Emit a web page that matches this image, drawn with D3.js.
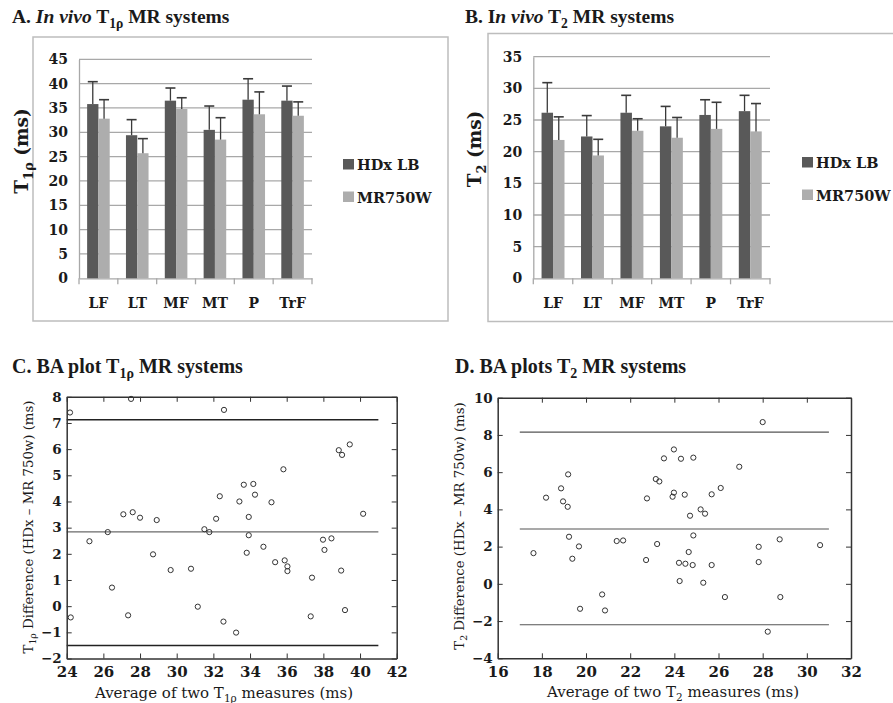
<!DOCTYPE html>
<html><head><meta charset="utf-8">
<script src="https://cdn.jsdelivr.net/npm/d3@7/dist/d3.min.js"></script>
<style>
html,body{margin:0;padding:0;background:#fff;}
svg{display:block;}
text{font-family:"DejaVu Serif",serif;fill:#1a1a1a;}
.ttl{font-family:"Liberation Serif",serif;font-weight:bold;}
</style></head>
<body>
<svg id="c" width="893" height="703"></svg>
<script>
// ---------- DATA ----------
const categories = ["LF","LT","MF","MT","P","TrF"];
const seriesNames = ["HDx LB","MR750W"];
const t1rhoHDx    = [35.8, 29.4, 36.5, 30.5, 36.7, 36.5];
const t1rhoHDxErr = [4.6, 3.2, 2.6, 4.9, 4.3, 3.0];
const t1rhoMR     = [32.8, 25.7, 34.8, 28.5, 33.7, 33.4];
const t1rhoMRErr  = [3.9, 3.0, 2.3, 4.5, 4.6, 2.85];
const t2HDx       = [26.15, 22.4, 26.15, 24.0, 25.8, 26.4];
const t2HDxErr    = [4.75, 3.3, 2.75, 3.15, 2.4, 2.5];
const t2MR        = [21.85, 19.4, 23.3, 22.2, 23.6, 23.2];
const t2MRErr     = [3.65, 2.55, 1.9, 3.2, 4.2, 4.4];
const t1rhoTicks  = [0,5,10,15,20,25,30,35,40,45];
const t2Ticks     = [0,5,10,15,20,25,30,35];

// Bland-Altman T1rho: [average, difference]
const baT1rho = [
 [24.18,7.40],[24.22,-0.43],[27.51,7.92],[25.24,2.48],[26.24,2.83],[26.47,0.71],
 [27.09,3.51],[27.60,3.59],[28.00,3.38],[27.35,-0.35],[28.91,3.29],[28.71,1.98],
 [29.67,1.38],[30.78,1.43],[31.15,-0.02],[31.51,2.94],[31.78,2.83],[32.15,3.34],
 [32.35,4.20],[32.58,7.50],[32.55,-0.59],[33.24,-1.01],[33.42,4.00],[33.66,4.64],
 [34.18,4.67],[34.27,4.26],[33.93,3.41],[33.93,2.71],[33.82,2.04],[34.73,2.27],
 [35.17,3.97],[35.82,5.23],[35.37,1.68],[35.89,1.75],[36.04,1.52],[36.04,1.34],
 [37.38,1.09],[37.31,-0.39],[37.98,2.54],[38.44,2.59],[38.06,2.15],[38.84,5.96],
 [39.02,5.78],[39.44,6.18],[38.97,1.36],[39.18,-0.15],[40.17,3.53]
];
const baT1rhoLines = [7.12, 2.84, -1.50];
const baT1rhoXTicks = [24,26,28,30,32,34,36,38,40,42];
const baT1rhoYTicks = [-2,-1,0,1,2,3,4,5,6,7,8];

// Bland-Altman T2: [average, difference]
const baT2 = [
 [17.62,1.65],[18.19,4.63],[18.87,5.13],[18.96,4.43],[19.17,4.14],[19.19,5.88],
 [19.23,2.53],[19.38,1.35],[19.68,2.01],[19.73,-1.34],[20.73,-0.57],[20.86,-1.43],
 [21.39,2.30],[21.68,2.33],[22.72,1.28],[22.76,4.59],[23.16,5.63],[23.32,5.50],
 [23.22,2.14],[23.53,6.74],[23.98,7.22],[24.30,6.72],[24.86,6.78],[26.94,6.29],
 [28.00,8.69],[23.98,4.90],[23.92,4.68],[24.47,4.79],[25.69,4.81],[26.10,5.15],
 [25.19,4.00],[25.39,3.77],[24.71,3.66],[24.86,2.60],[24.65,1.71],[24.21,1.13],
 [24.50,1.08],[24.83,1.01],[25.69,1.01],[27.82,1.99],[27.82,1.17],[28.77,2.39],
 [30.60,2.08],[24.24,0.15],[25.31,0.06],[26.29,-0.71],[28.80,-0.71],[28.23,-2.57]
];
const baT2Lines = [8.15, 2.95, -2.20];
const baT2XTicks = [16,18,20,22,24,26,28,30,32];
const baT2YTicks = [-4,-2,0,2,4,6,8,10];

// ---------- HELPERS ----------
const svg = d3.select("#c");
const DARK = "#595959", LIGHT = "#adadad";

function rich(sel, parts){
  // parts: [text, kind] kind: ''|'i'|'sub'|'after'
  parts.forEach(([t,k])=>{
    const ts = sel.append("tspan").text(t);
    if(k==="i") ts.attr("font-style","italic");
    if(k==="sub") ts.attr("font-size","0.7em").attr("dy","0.36em");
    if(k==="after") ts.attr("dy","-0.25em");
  });
  return sel;
}

function barPanel(o){
  const g = svg.append("g");
  g.append("rect").attr("x",o.box[0]).attr("y",o.box[1]).attr("width",o.box[2]).attr("height",o.box[3])
    .attr("fill","none").attr("stroke","#bdbdbd").attr("stroke-width",1.5);
  rich(g.append("text").attr("class","ttl").attr("x",o.titleX).attr("y",23).attr("font-size",19.5), o.title);

  const x0 = d3.scaleBand().domain(categories).range([o.x0,o.x1]).paddingInner(0).paddingOuter(0);
  const x1 = d3.scaleBand().domain(seriesNames).range([0,x0.bandwidth()]).paddingInner(0).paddingOuter(0.72);
  const y = d3.scaleLinear().domain([0,o.ymax]).range([o.yb,o.yt]);

  // gridlines
  g.append("g").selectAll("line").data(o.ticks.filter(d=>d>0)).join("line")
    .attr("x1",o.x0).attr("x2",o.x1).attr("y1",d=>y(d)).attr("y2",d=>y(d))
    .attr("stroke","#a8a8a8").attr("stroke-width",1.3);
  // y axis
  const ya = g.append("g").attr("transform",`translate(${o.x0},0)`).call(d3.axisLeft(y).tickValues(o.ticks).tickSize(0).tickPadding(11));
  ya.select(".domain").attr("stroke","#a8a8a8").attr("stroke-width",1.3);
  ya.selectAll("text").attr("font-size",14).attr("font-weight","bold").attr("font-family","DejaVu Serif").attr("fill","#1a1a1a");
  // x axis
  const xa = g.append("g").attr("transform",`translate(0,${o.yb})`).call(d3.axisBottom(x0).tickSize(0).tickPadding(20));
  xa.select(".domain").attr("stroke","#a8a8a8").attr("stroke-width",1.3);
  xa.selectAll("text").attr("font-size",14).attr("font-weight","bold").attr("font-family","DejaVu Serif").attr("fill","#1a1a1a");
  const bounds = categories.map(c=>x0(c)).concat([o.x1]);
  xa.append("g").selectAll("line").data(bounds).join("line")
    .attr("x1",d=>d).attr("x2",d=>d).attr("y1",0).attr("y2",6).attr("stroke","#a8a8a8").attr("stroke-width",1.3);

  const rows = categories.map((c,i)=>({c, v:[o.a[i],o.b[i]], e:[o.ae[i],o.be[i]]}));
  const cg = g.append("g").selectAll("g").data(rows).join("g").attr("transform",d=>`translate(${x0(d.c)},0)`);
  seriesNames.forEach((s,si)=>{
    cg.append("rect").attr("x",x1(s)).attr("width",x1.bandwidth())
      .attr("y",d=>y(d.v[si])).attr("height",d=>y(0)-y(d.v[si]))
      .attr("fill",si===0?DARK:LIGHT);
    const cx = x1(s)+x1.bandwidth()/2;
    cg.append("line").attr("x1",cx).attr("x2",cx).attr("y1",d=>y(d.v[si])).attr("y2",d=>y(d.v[si]+d.e[si]))
      .attr("stroke","#3a3a3a").attr("stroke-width",1.3);
    cg.append("line").attr("x1",cx-5).attr("x2",cx+5).attr("y1",d=>y(d.v[si]+d.e[si])).attr("y2",d=>y(d.v[si]+d.e[si]))
      .attr("stroke","#3a3a3a").attr("stroke-width",1.6);
  });
  // legend
  seriesNames.forEach((s,si)=>{
    g.append("rect").attr("x",o.legX).attr("y",o.legY+si*32.5).attr("width",11).attr("height",10.5).attr("fill",si===0?DARK:LIGHT);
    g.append("text").attr("x",o.legX+14).attr("y",o.legY+11+si*32.5).attr("font-size",14.5).attr("font-weight","bold").text(s);
  });
  // y label
  rich(g.append("text").attr("transform",`translate(${o.ylabX},${o.ylabY}) rotate(-90)`).attr("text-anchor","middle")
    .attr("font-size",18.5).attr("font-weight","bold"), o.ylab);
}

barPanel({box:[33,37,415,284], title:[["A. ",""],["In vivo","i"],[" T",""],["1ρ","sub"],[" MR systems","after"]], titleX:12,
  x0:79, x1:312, yb:278.3, yt:59.3, ymax:45, ticks:t1rhoTicks,
  a:t1rhoHDx, ae:t1rhoHDxErr, b:t1rhoMR, be:t1rhoMRErr, legX:343, legY:159,
  ylab:[["T",""],["1ρ","sub"],[" (ms)","after"]], ylabX:28, ylabY:151});

barPanel({box:[488,33.5,410,288], title:[["B. I",""],["n vivo","i"],[" T",""],["2","sub"],[" MR systems","after"]], titleX:465,
  x0:533.3, x1:770, yb:278.3, yt:56.7, ymax:35, ticks:t2Ticks,
  a:t2HDx, ae:t2HDxErr, b:t2MR, be:t2MRErr, legX:802, legY:157,
  ylab:[["T",""],["2","sub"],[" (ms)","after"]], ylabX:481, ylabY:149});

function baPanel(o){
  const g = svg.append("g");
  rich(g.append("text").attr("class","ttl").attr("x",o.titleX).attr("y",373).attr("font-size",20), o.title);
  const x = d3.scaleLinear().domain(o.xd).range([o.l,o.r]);
  const y = d3.scaleLinear().domain(o.yd).range([o.b,o.t]);
  // limit lines
  o.lines.forEach((v,i)=>{
    g.append("line").attr("x1",x(o.lx[0])).attr("x2",x(o.lx[1])).attr("y1",y(v)).attr("y2",y(v))
      .attr("stroke",i===1?o.meanCol:o.limCol).attr("stroke-width",i===1?1.1:o.limW);
  });
  // points
  g.append("g").selectAll("circle").data(o.pts).join("circle")
    .attr("cx",d=>x(d[0])).attr("cy",d=>y(d[1])).attr("r",2.6)
    .attr("fill","none").attr("stroke","#333").attr("stroke-width",1);
  // axes
  const ax = (axis, tr) => {
    const a = g.append("g").attr("transform",tr).call(axis);
    a.select(".domain").attr("stroke","#333").attr("stroke-width",1.5);
    a.selectAll(".tick line").attr("stroke","#333").attr("stroke-width",1);
    return a;
  };
  const bx = ax(d3.axisBottom(x).tickValues(o.xt).tickSizeInner(-5).tickSizeOuter(0).tickPadding(8), `translate(0,${o.b})`);
  bx.selectAll("text").attr("font-size",15).attr("font-weight","bold").attr("font-family","DejaVu Serif").attr("fill","#1a1a1a");
  const lx = ax(d3.axisLeft(y).tickValues(o.yt).tickSizeInner(-5).tickSizeOuter(0).tickPadding(5), `translate(${o.l},0)`);
  lx.selectAll("text").attr("font-size",13.5).attr("font-weight","bold").attr("font-family","DejaVu Serif").attr("fill","#1a1a1a");
  ax(d3.axisTop(x).tickValues(o.xt).tickSizeInner(-5).tickSizeOuter(0).tickFormat(""), `translate(0,${o.t})`);
  ax(d3.axisRight(y).tickValues(o.yt).tickSizeInner(-5).tickSizeOuter(0).tickFormat(""), `translate(${o.r},0)`);
  // labels
  rich(g.append("text").attr("x",o.xlabX).attr("y",o.xlabY).attr("text-anchor","middle").attr("font-size",15), o.xlab);
  rich(g.append("text").attr("transform",`translate(${o.ylabX},${o.ylabC}) rotate(-90)`).attr("text-anchor","middle").attr("font-size",13.3), o.ylab);
}

baPanel({title:[["C. BA plot T",""],["1ρ","sub"],[" MR systems","after"]], titleX:12,
  xd:[24,42], yd:[-2,8], l:66.7, r:396.7, t:396.8, b:658.5, xt:baT1rhoXTicks, yt:baT1rhoYTicks,
  lines:baT1rhoLines, lx:[24,41], meanCol:"#6a6a6a", limCol:"#222", limW:1.5, pts:baT1rho,
  xlab:[["Average of two T",""],["1ρ","sub"],[" measures (ms)","after"]], xlabX:224, xlabY:698,
  ylab:[["T",""],["1ρ","sub"],[" Difference (HDx – MR 750w) (ms)","after"]], ylabX:33, ylabC:527});

baPanel({title:[["D. BA plots T",""],["2","sub"],[" MR systems","after"]], titleX:455,
  xd:[16,32], yd:[-4,10], l:497.7, r:851, t:397.7, b:658.3, xt:baT2XTicks, yt:baT2YTicks,
  lines:baT2Lines, lx:[17,31], meanCol:"#555", limCol:"#555", limW:1.1, pts:baT2,
  xlab:[["Average of two T",""],["2","sub"],[" measures (ms)","after"]], xlabX:673, xlabY:697,
  ylab:[["T",""],["2","sub"],[" Difference (HDx – MR 750w) (ms)","after"]], ylabX:464, ylabC:526});
</script>
</body></html>
